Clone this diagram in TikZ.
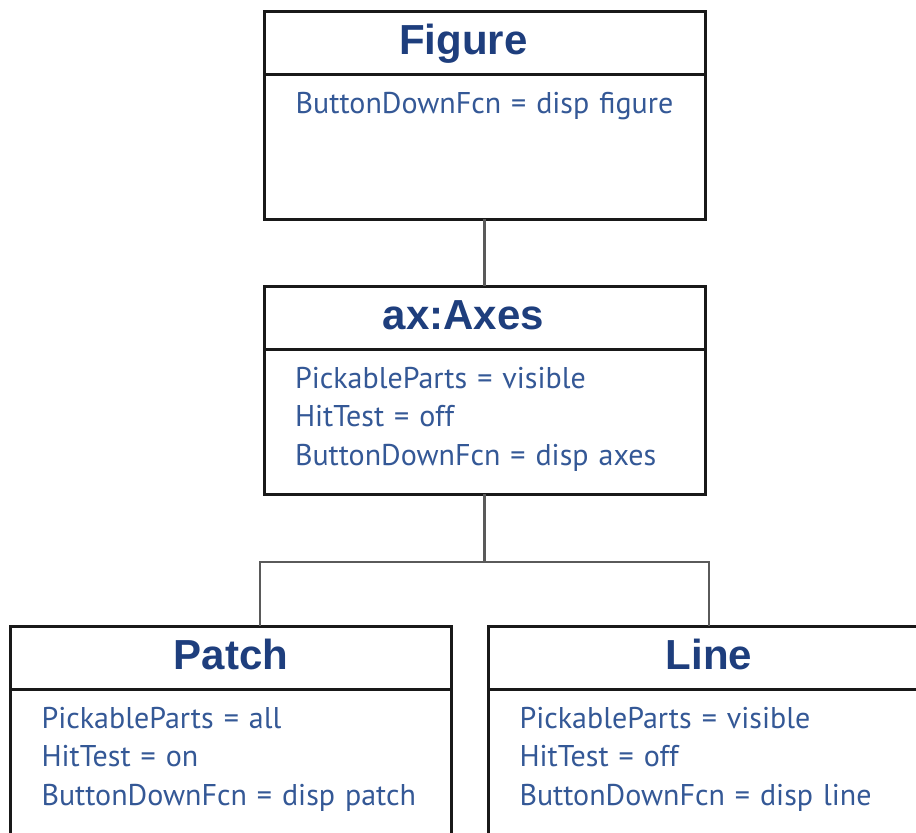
\documentclass[tikz,border=0pt]{standalone}
\usepackage{fontspec}
\setmainfont{PT Sans}
\newfontfamily\titlefont{Liberation Sans}
\usetikzlibrary{positioning}
\definecolor{titleblue}{RGB}{30,62,125}
\definecolor{propblue}{RGB}{52,88,150}
\definecolor{linkgray}{RGB}{90,90,90}

\begin{document}
\begin{tikzpicture}[
    x=0.5pt, y=-0.5pt,
    node distance=33.5pt,
    head/.style={draw=black!90, line width=1.5pt, outer sep=0pt, inner sep=0pt,
                 minimum width=220.5pt, text height=21.5pt, text depth=10pt,
                 anchor=north, text=titleblue,
                 font=\titlefont\bfseries\fontsize{21}{24}\selectfont},
    body/.style={draw=black!90, line width=1.5pt, outer sep=0pt,
                 inner xsep=15.5pt, inner ysep=0pt, minimum width=220.5pt,
                 text width=189.5pt, text height=19.5pt, text depth=53pt,
                 align=left, text=propblue,
                 font=\fontsize{15}{19.25}\selectfont},
    link/.style={draw=linkgray, line width=1.3pt},
]
\clip (0,0) rectangle (916,832);
\fill[white] (0,0) rectangle (916,832);

%% Figure and its axes
\node[head] (fighead) at (484.5,11) {Figure\hspace{21pt}\mbox{}};
\node[body, align=center, below=0pt of fighead] (figbody)
    {ButtonDownFcn = disp figure};

\node[head, below=33.5pt of figbody] (axhead) {ax:Axes\hspace{21pt}\mbox{}};
\node[body, below=0pt of axhead] (axbody)
    {PickableParts = visible\\HitTest = off\\ButtonDownFcn = disp axes};

%% Children of the axes
\node[head] (patchhead) at (231,626) {Patch};
\node[body, below=0pt of patchhead] (patchbody)
    {PickableParts = all\\HitTest = on\\ButtonDownFcn = disp patch};

\node[head] (linehead) at (709,626) {Line};
\node[body, below=0pt of linehead] (linebody)
    {PickableParts = visible\\HitTest = off\\ButtonDownFcn = disp line};

%% Tree connectors
\coordinate (split) at (484.5,562);
\draw[link] (figbody) -- (axhead);
\draw[link] (axbody) -- (split);
\draw[link] (split) -| ([xshift=14.5pt]patchhead.north);
\draw[link] (split) -| (linehead.north);

\end{tikzpicture}
\end{document}
